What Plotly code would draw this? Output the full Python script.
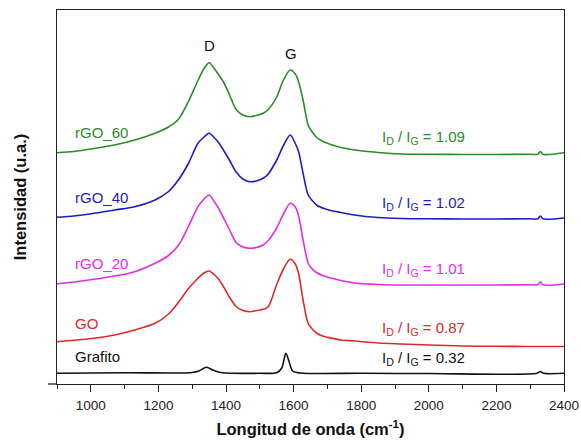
import plotly.graph_objects as go

# ---- data (Raman shift in cm^-1, intensity in arbitrary units, offset as plotted) ----
shift = [900, 950, 1010, 1070, 1130, 1190, 1230, 1260, 1288, 1317, 1335, 1350, 1365, 1380, 1395,
         1410, 1430, 1450, 1470, 1490, 1510, 1525, 1550, 1570, 1590, 1605, 1615, 1628, 1643, 1655,
         1670, 1690, 1710, 1740, 1780, 1850, 1920, 2000, 2100, 2200, 2300, 2322, 2330, 2338, 2400]

rgo60 = [233.3, 234.5, 237.5, 241, 246, 252.7, 259, 267, 284, 305.5, 317.5, 323.3, 317.5, 310.5, 302.5,
         291.5, 276.5, 271, 269.3, 270.5, 272.7, 276.5, 289, 306, 316, 312, 304, 286, 261, 254,
         248, 244, 241.5, 238.5, 236, 233.5, 232, 231.7, 231.5, 231.5, 231.7, 231.7, 234.5, 231.7, 233.3]

rgo40 = [168.7, 170, 172.7, 176, 179.3, 186, 194.5, 206.5, 222, 242.7, 249, 252.7, 248.5, 242.5, 234.5,
         226, 214, 207, 204.3, 205, 207.7, 212, 226, 240.5, 251, 242.5, 234, 212.7, 191, 185.5,
         180.5, 177.5, 175.5, 173.5, 171, 168.5, 167.5, 167.2, 167, 167, 167.2, 167.2, 170, 167.2, 168]

rgo20 = [102.3, 104, 106.7, 110, 114.3, 122.7, 130.5, 141, 159, 179.3, 187, 191, 184.5, 176.5, 166.5,
         156.5, 143.5, 139, 137.7, 138.5, 141, 145.5, 158, 172, 182.7, 179, 170, 146, 123, 117,
         113, 110, 108, 105.5, 103, 101.5, 101, 101, 101, 101, 101.2, 101.2, 104, 101.2, 102]

go_ = [44.3, 45.7, 47.7, 51, 56, 62.7, 72, 84, 97, 107.7, 113, 115, 111.5, 106, 98,
       89, 79.5, 75.5, 74.3, 75.5, 76.7, 79.3, 101.5, 117, 126.7, 122, 112, 86, 62.7, 57,
       52.5, 49.5, 48, 46, 45, 43, 42, 41, 40, 39.7, 39.5, 39.5, 39.5, 39.5, 39.5]

shift_graf = [900, 1100, 1250, 1300, 1320, 1342, 1365, 1390, 1500, 1550, 1565, 1577, 1587, 1597, 1620,
              1800, 2000, 2320, 2330, 2340, 2400]
grafito = [12.7, 13.3, 13, 13.5, 15, 18.7, 15.5, 13.2, 12.7, 13.3, 18, 32.7, 24, 15, 13,
           12.7, 12.5, 12.7, 14.5, 12.7, 12.7]

names = ["Grafito", "GO", "rGO_20", "rGO_40", "rGO_60"]
ratios = ["0.32", "0.87", "1.01", "1.02", "1.09"]
colors = ["#111111", "#e02828", "#e22ee2", "#1c1cc8", "#2b8c2b"]
xs = [shift_graf, shift, shift, shift, shift]
ys = [grafito, go_, rgo20, rgo40, rgo60]
label_y = [30, 63, 123, 189, 254]
ratio_y = [28, 58, 117, 183, 249]

FONT = "Liberation Sans, Arial, sans-serif"

fig = go.Figure()
for n, c, xx, yy in zip(names, colors, xs, ys):
    fig.add_trace(go.Scatter(x=xx, y=yy, mode="lines", name=n,
                             line=dict(color=c, width=1.6, shape="spline", smoothing=0.8),
                             showlegend=False))

ann = []
for n, r, c, ly, ry in zip(names, ratios, colors, label_y, ratio_y):
    ann.append(dict(x=947, y=ly, xref="x", yref="y", text=n, showarrow=False,
                    xanchor="left", yanchor="middle", font=dict(size=15, color=c, family=FONT)))
    ann.append(dict(x=1855, y=ry, xref="x", yref="y",
                    text="I<sub>D</sub> / I<sub>G</sub> = " + r, showarrow=False,
                    xanchor="left", yanchor="middle", font=dict(size=15, color=c, family=FONT)))
ann.append(dict(x=1350, y=341, xref="x", yref="y", text="D", showarrow=False,
                font=dict(size=15, color="#111111", family=FONT)))
ann.append(dict(x=1592, y=333, xref="x", yref="y", text="G", showarrow=False,
                font=dict(size=15, color="#111111", family=FONT)))

fig.update_layout(
    width=581, height=441,
    margin=dict(l=57, r=17, t=10, b=57),
    paper_bgcolor="white", plot_bgcolor="white",
    font=dict(family=FONT, color="#111111"),
    annotations=ann,
    xaxis=dict(range=[900, 2400], tick0=1000, dtick=200, ticks="outside", ticklen=7,
               tickwidth=1.2, tickcolor="#222", showline=True, linecolor="#222", linewidth=1.3,
               mirror=True, showgrid=False, zeroline=False, ticklabelstandoff=2, automargin=False,
               tickfont=dict(size=13.5, family=FONT, color="#222"),
               minor=dict(tick0=900, dtick=100, ticks="outside", ticklen=4, tickcolor="#222"),
               title=dict(text="<b>Longitud de onda (cm<sup>-1</sup>)</b>",
                          font=dict(size=16.5, family=FONT, color="#111"), standoff=11)),
    yaxis=dict(range=[2, 376], showticklabels=False, ticks="", showline=True, linecolor="#222",
               linewidth=1.3, mirror=True, showgrid=False, zeroline=False, automargin=False,
               title=dict(text="<b>Intensidad (u.a.)</b>",
                          font=dict(size=16.5, family=FONT, color="#111"), standoff=25)),
    shapes=[dict(type="line", xref="paper", yref="paper", x0=-0.018, x1=0, y0=0, y1=0,
                 line=dict(color="#222", width=1.3))],
)

fig.write_html("out.html")
